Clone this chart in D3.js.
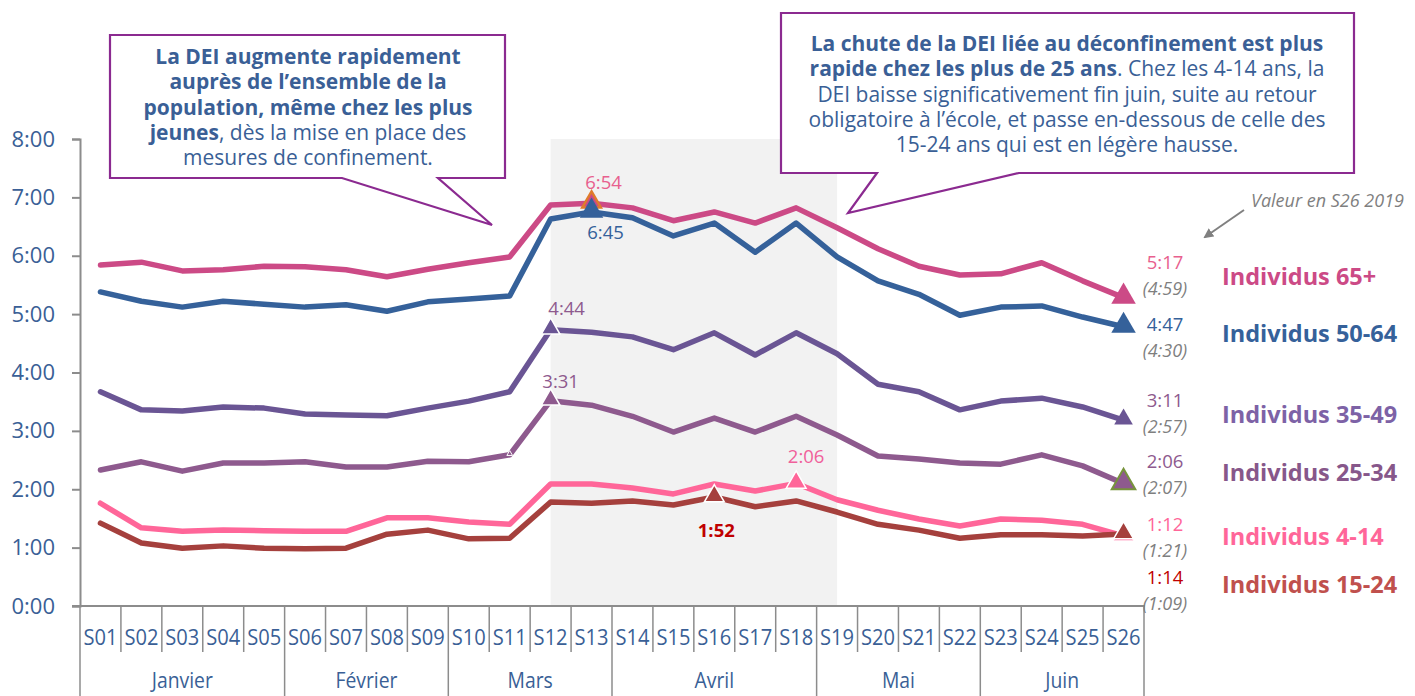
<!DOCTYPE html>
<html><head><meta charset="utf-8">
<script src="https://cdn.jsdelivr.net/npm/d3@7/dist/d3.min.js"></script>
<style>
html,body{margin:0;padding:0;background:#fff;}
svg{display:block;font-family:"Open Sans",sans-serif;}
</style></head>
<body><svg id="c" width="1415" height="696"></svg>
<script>
// ---------- DATA ----------
const weeks = ["S01","S02","S03","S04","S05","S06","S07","S08","S09","S10","S11","S12","S13","S14","S15","S16","S17","S18","S19","S20","S21","S22","S23","S24","S25","S26"];
const monthNames = ["Janvier","Février","Mars","Avril","Mai","Juin"];
const monthWeeks = [5,4,4,5,4,4];
const yTicks = [0,1,2,3,4,5,6,7,8];
// values in hours (decimal)
const s65   = [5.84,5.89,5.74,5.76,5.82,5.81,5.76,5.64,5.77,5.88,5.98,6.87,6.90,6.82,6.60,6.75,6.56,6.82,6.48,6.12,5.82,5.67,5.69,5.88,5.57,5.2833];
const s5064 = [5.38,5.22,5.12,5.22,5.17,5.12,5.16,5.05,5.21,5.26,5.31,6.63,6.75,6.65,6.34,6.56,6.06,6.56,5.98,5.57,5.34,4.98,5.12,5.14,4.95,4.7833];
const s3549 = [3.67,3.36,3.34,3.41,3.39,3.29,3.27,3.26,3.39,3.51,3.67,4.7333,4.69,4.61,4.39,4.68,4.30,4.68,4.32,3.80,3.67,3.36,3.51,3.56,3.41,3.1833];
const s2534 = [2.33,2.47,2.31,2.45,2.45,2.47,2.38,2.38,2.48,2.47,2.59,3.5167,3.44,3.25,2.98,3.22,2.98,3.25,2.93,2.57,2.52,2.45,2.43,2.59,2.40,2.10];
const s414  = [1.76,1.34,1.28,1.30,1.29,1.28,1.28,1.51,1.51,1.44,1.40,2.09,2.09,2.02,1.92,2.09,1.97,2.10,1.82,1.64,1.49,1.37,1.49,1.47,1.40,1.20];
const s1524 = [1.42,1.08,0.99,1.03,0.99,0.98,0.99,1.23,1.30,1.15,1.16,1.78,1.76,1.80,1.73,1.8667,1.70,1.80,1.61,1.40,1.30,1.16,1.22,1.22,1.20,1.2333];
const ref2019 = ["(4:59)","(4:30)","(2:57)","(2:07)","(1:21)","(1:09)"];
const legendNames = ["Individus 65+","Individus 50-64","Individus 35-49","Individus 25-34","Individus 4-14","Individus 15-24"];

// ---------- STYLE / LAYOUT ----------
const W = 1415, H = 696;
const svg = d3.select("#c");
svg.append("rect").attr("width",W).attr("height",H).attr("fill","#fff");
const x = d3.scaleBand().domain(weeks).range([80,1144]).padding(0);
const xc = w => x(w) + x.bandwidth()/2;
const y = d3.scaleLinear().domain([0,8]).range([606,139]);
const fmt = v => { const m = Math.round(v*60); return Math.floor(m/60)+":"+String(m%60).padStart(2,"0"); };
const axisCol = "#8c8c8c", textBlue = "#3A5F96";

const series = [
  {vals:s65,   line:"#CC4A86", legend:"#CC4A86", lbl:"#E8608E", ref:ref2019[0], name:legendNames[0], endLblY:262, legY:276},
  {vals:s5064, line:"#35619A", legend:"#35619A", lbl:"#35619A", ref:ref2019[1], name:legendNames[1], endLblY:324, legY:333},
  {vals:s3549, line:"#6A5594", legend:"#7D62A6", lbl:"#8E5A8E", ref:ref2019[2], name:legendNames[2], endLblY:400, legY:414},
  {vals:s2534, line:"#8E5A8E", legend:"#87578A", lbl:"#8E5A8E", ref:ref2019[3], name:legendNames[3], endLblY:461, legY:472},
  {vals:s414,  line:"#FF6699", legend:"#FF6699", lbl:"#FF6699", ref:ref2019[4], name:legendNames[4], endLblY:524, legY:536},
  {vals:s1524, line:"#A5403D", legend:"#C0504D", lbl:"#C00000", ref:ref2019[5], name:legendNames[5], endLblY:577, legY:584}
];

// shaded confinement period (S12 -> S19 centers)
svg.append("rect").attr("x",xc("S12")).attr("y",y(8))
  .attr("width",xc("S19")-xc("S12")).attr("height",y(0)-y(8)).attr("fill","#F2F2F2");

// y axis
const ya = svg.append("g").attr("transform","translate(80,0)")
  .call(d3.axisLeft(y).tickValues(yTicks).tickFormat(d=>d+":00").tickSize(8).tickPadding(17));
ya.select(".domain").attr("stroke",axisCol).attr("stroke-width",2);
ya.selectAll(".tick line").attr("stroke",axisCol).attr("stroke-width",2);
ya.selectAll(".tick text").attr("fill",textBlue).attr("font-size",22).attr("font-family","Open Sans");

// x axis (custom two-level)
const xa = svg.append("g");
xa.append("line").attr("x1",72).attr("x2",1145).attr("y1",606).attr("y2",606).attr("stroke",axisCol).attr("stroke-width",2);
const bounds = weeks.map(w=>x(w)).concat([1144]);
const monthStarts = [0]; monthWeeks.reduce((a,n)=>{monthStarts.push(a+n); return a+n;},0);
bounds.forEach((b,i)=>{
  const isMonth = monthStarts.includes(i);
  xa.append("line").attr("x1",b).attr("x2",b).attr("y1",606).attr("y2",isMonth?696:652)
    .attr("stroke",axisCol).attr("stroke-width",1.5);
});
xa.selectAll("text.wk").data(weeks).join("text").attr("class","wk")
  .attr("x",d=>xc(d)).attr("y",645).attr("text-anchor","middle")
  .attr("fill",textBlue).attr("font-size",22).attr("textLength",34).attr("lengthAdjust","spacingAndGlyphs").text(d=>d);
monthNames.forEach((m,i)=>{
  const a = bounds[monthStarts[i]], b = bounds[monthStarts[i+1]];
  const t = xa.append("text").attr("x",(a+b)/2).attr("y",688).attr("text-anchor","middle")
    .attr("fill",textBlue).attr("font-size",21.5).text(m);
  const w = t.node().getComputedTextLength();
  t.attr("textLength",w*0.9).attr("lengthAdjust","spacingAndGlyphs");
});

// lines
const line = d3.line().x((d,i)=>xc(weeks[i])).y(d=>y(d));
series.forEach(s=>{
  svg.append("path").datum(s.vals).attr("d",line).attr("fill","none")
    .attr("stroke",s.line).attr("stroke-width",5.5).attr("stroke-linejoin","round").attr("stroke-linecap","round");
});

// markers
const tri = size => d3.symbol(d3.symbolTriangle).size(size)();
function marker(si, wk, size, fill, stroke, sw){
  const s = series[si], i = weeks.indexOf(wk);
  svg.append("path").attr("d",tri(size))
    .attr("transform",`translate(${xc(wk)},${y(s.vals[i])-1})`)
    .attr("fill",fill).attr("stroke",stroke).attr("stroke-width",sw);
}
function ptLabel(si, wk, dx, dy, color, bold){
  const s = series[si], i = weeks.indexOf(wk);
  svg.append("text").attr("x",xc(wk)+dx).attr("y",y(s.vals[i])+dy).attr("text-anchor","middle")
    .attr("fill",color).attr("font-size",18.5).attr("font-weight",bold?700:400).text(fmt(s.vals[i]));
}
marker(2,"S12",150,"#6A5594","#fff",1.5);
marker(3,"S12",150,"#8E5A8E","#fff",1.5);
marker(3,"S11",14,"#8E5A8E","#fff",1);
marker(0,"S13",150,"#CC4A86","#E07B2C",2.5);
marker(1,"S13",240,"#35619A","none",0);
marker(5,"S16",170,"#A5403D","#fff",1.5);
marker(4,"S18",170,"#FF6699","#fff",1.5);
// end markers
marker(0,"S26",260,"#CC4A86","none",0);
marker(1,"S26",260,"#35619A","none",0);
marker(2,"S26",150,"#6A5594","none",0);
marker(3,"S26",240,"#8E5A8E","#77933C",2);
marker(4,"S26",180,"#FF6699","#fff",1);
marker(5,"S26",170,"#A5403D","#fff",1.5);

ptLabel(0,"S13",12,-14,"#E8608E",false);
ptLabel(1,"S13",14,27,"#35619A",false);
ptLabel(2,"S12",16,-15,"#8E5A8E",false);
ptLabel(3,"S12",10,-13,"#8E5A8E",false);
ptLabel(4,"S18",10,-20,"#F0609A",false);
ptLabel(5,"S16",2,40,"#C00000",true);

// end labels + legend
series.forEach(s=>{
  const v = s.vals[s.vals.length-1];
  svg.append("text").attr("x",1165).attr("y",s.endLblY+7).attr("text-anchor","middle")
    .attr("fill",s.lbl).attr("font-size",18.5).text(fmt(v));
  svg.append("text").attr("x",1165).attr("y",s.endLblY+33).attr("text-anchor","middle")
    .attr("fill","#7f7f7f").attr("font-size",18).attr("font-style","italic").text(s.ref);
  svg.append("text").attr("x",1222).attr("y",s.legY+8.5).attr("fill",s.legend)
    .attr("font-size",23.5).attr("font-weight",700).text(s.name);
});

// "Valeur en S26 2019" note + arrow
svg.append("defs").append("marker").attr("id","ah").attr("viewBox","0 0 10 10").attr("refX",8).attr("refY",5)
  .attr("markerWidth",5).attr("markerHeight",5).attr("orient","auto")
  .append("path").attr("d","M0,0 L10,5 L0,10 Z").attr("fill","#808080");
svg.append("line").attr("x1",1244).attr("y1",210).attr("x2",1205).attr("y2",237)
  .attr("stroke","#808080").attr("stroke-width",2).attr("marker-end","url(#ah)");
svg.append("text").attr("x",1251).attr("y",207).attr("fill","#7f7f7f").attr("font-size",18)
  .attr("font-style","italic").text("Valeur en S26 2019");

// callout boxes
const boxCol = "#8B2A90";
svg.append("path").attr("d","M110,35 H505 V178 H438 L492,225 L342,178 H110 Z")
  .attr("fill","#fff").attr("stroke",boxCol).attr("stroke-width",2.2);
svg.append("path").attr("d","M781,13 H1354 V173 H1019 L848,213 L877,173 H781 Z")
  .attr("fill","#fff").attr("stroke",boxCol).attr("stroke-width",2.2);

function para(cx, y0, lh, lines, size){
  lines.forEach((ln,k)=>{
    const t = svg.append("text").attr("x",cx).attr("y",y0+k*lh).attr("text-anchor","middle")
      .attr("fill",textBlue).attr("font-size",size);
    ln.forEach(([str,b])=>t.append("tspan").attr("font-weight",b?700:400).text(str));
  });
}
para(308, 64, 25.3, [
  [["La DEI augmente rapidement",1]],
  [["auprès de l’ensemble de la",1]],
  [["population, même chez les plus",1]],
  [["jeunes",1],[", dès la mise en place des",0]],
  [["mesures de confinement.",0]]
], 21);
para(1067, 51, 25.3, [
  [["La chute de la DEI liée au déconfinement est plus",1]],
  [["rapide chez les plus de 25 ans",1],[". Chez les 4-14 ans, la",0]],
  [["DEI baisse significativement fin juin, suite au retour",0]],
  [["obligatoire à l’école, et passe en-dessous de celle des",0]],
  [["15-24 ans qui est en légère hausse.",0]]
], 21);
</script></body></html>
